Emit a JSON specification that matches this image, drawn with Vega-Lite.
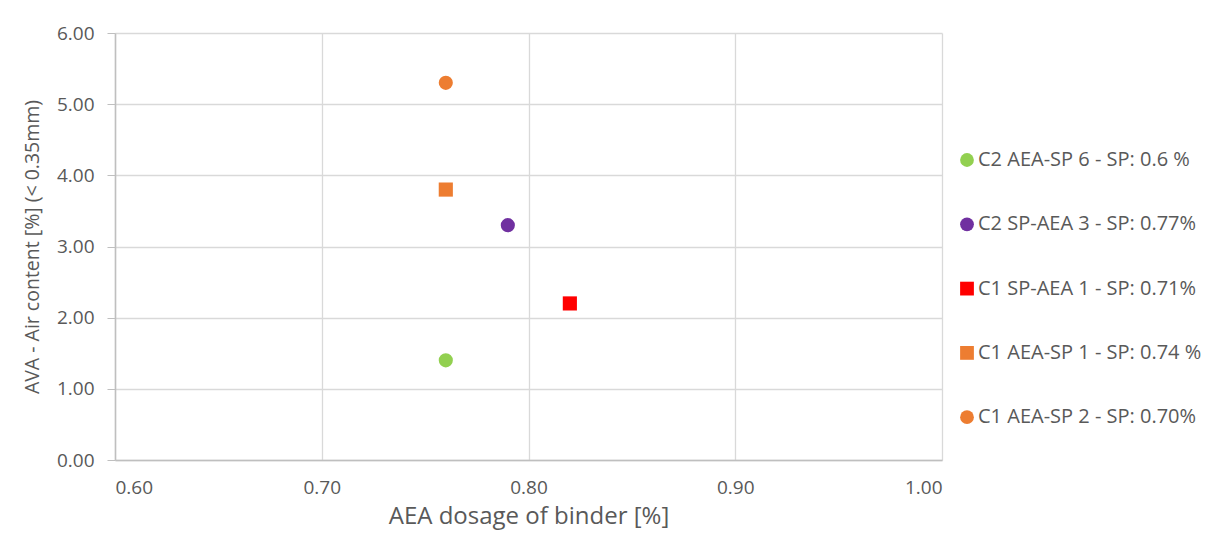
{
  "$schema": "https://vega.github.io/schema/vega-lite/v6.json",
  "width": 827,
  "height": 427,
  "autosize": {"type": "none"},
  "padding": {"left": 115, "top": 33, "right": 270, "bottom": 78},
  "background": "white",
  "config": {
    "font": "Open Sans",
    "view": {"stroke": null},
    "axis": {"labelColor": "#595959", "titleColor": "#595959", "labelFont": "Open Sans", "titleFont": "Open Sans", "titleFontWeight": "normal", "gridColor": "#d9d9d9", "gridWidth": 1.3, "domainColor": "#bfbfbf", "domainWidth": 1.5}
  },
  "data": {"values": [
    {"series": "C2 AEA-SP 6 - SP: 0.6 %", "aea": 0.76, "air": 1.40},
    {"series": "C2 SP-AEA 3 - SP: 0.77%", "aea": 0.79, "air": 3.30},
    {"series": "C1 SP-AEA 1 - SP: 0.71%", "aea": 0.82, "air": 2.20},
    {"series": "C1 AEA-SP 1 - SP: 0.74 %", "aea": 0.76, "air": 3.80},
    {"series": "C1 AEA-SP 2 - SP: 0.70%", "aea": 0.76, "air": 5.30}
  ]},
  "mark": {"type": "point", "filled": true, "opacity": 1, "size": 200},
  "encoding": {
    "x": {"field": "aea", "type": "quantitative", "scale": {"domain": [0.6, 1.0], "nice": false, "zero": false},
      "axis": {"title": "AEA dosage of binder [%]", "format": ".2f", "values": [0.6, 0.7, 0.8, 0.9, 1.0], "ticks": false, "labelPadding": 18, "labelFontSize": 19, "titleFontSize": 24, "titlePadding": 7}},
    "y": {"field": "air", "type": "quantitative", "scale": {"domain": [0, 6], "nice": false},
      "axis": {"title": "AVA - Air content [%] (< 0.35mm)", "format": ".2f", "values": [0, 1, 2, 3, 4, 5, 6], "tickSize": 8, "tickColor": "#bfbfbf", "labelPadding": 13, "labelFontSize": 19, "titleFontSize": 19.5, "titlePadding": 14}},
    "color": {"field": "series", "type": "nominal",
      "scale": {"domain": ["C2 AEA-SP 6 - SP: 0.6 %", "C2 SP-AEA 3 - SP: 0.77%", "C1 SP-AEA 1 - SP: 0.71%", "C1 AEA-SP 1 - SP: 0.74 %", "C1 AEA-SP 2 - SP: 0.70%"],
        "range": ["#92d050", "#7030a0", "#ff0000", "#ed7d31", "#ed7d31"]},
      "legend": {"title": null, "orient": "none", "legendX": 842, "legendY": 117, "rowPadding": 44.3, "labelFontSize": 20, "labelLimit": 300, "labelColor": "#595959", "labelFont": "Open Sans", "symbolSize": 190, "labelOffset": 1, "symbolOpacity": 1}},
    "shape": {"field": "series", "type": "nominal",
      "scale": {"domain": ["C2 AEA-SP 6 - SP: 0.6 %", "C2 SP-AEA 3 - SP: 0.77%", "C1 SP-AEA 1 - SP: 0.71%", "C1 AEA-SP 1 - SP: 0.74 %", "C1 AEA-SP 2 - SP: 0.70%"],
        "range": ["circle", "circle", "square", "square", "circle"]}}
  }
}
